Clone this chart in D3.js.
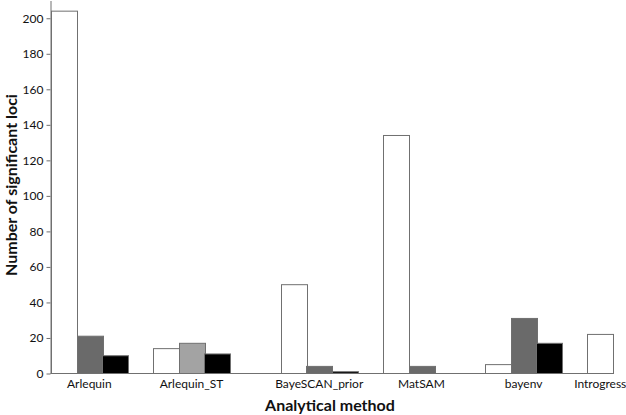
<!DOCTYPE html>
<html>
<head>
<meta charset="utf-8">
<script src="https://cdn.jsdelivr.net/npm/d3@7"></script>
<style>
body { margin: 0; background: #fff; }
text { font-family: Lato, "Open Sans", sans-serif; fill: #111; }
</style>
</head>
<body>
<script>
var width = 626,
    height = 415;

// data
var methods = ["Arlequin", "Arlequin_ST", "BayeSCAN_prior", "MatSAM", "bayenv", "Introgress"];
var series1 = [204, 14, 50, 134, 5, 22];   // white
var series2 = [21, 17, 4, 4, 31, 0];       // grey
var series3 = [10, 11, 1, 0, 17, 0];       // black
var yTicks = [0, 20, 40, 60, 80, 100, 120, 140, 160, 180, 200];

// layout of the clusters (bars per cluster, empty slots after it)
var barsPer = [3, 3, 3, 3, 3, 1];
var gapAfter = [1, 2, 1, 1, 1, 0];
var midGrey = ["#6a6a6a", "#a3a3a3", "#6a6a6a", "#6a6a6a", "#6a6a6a", "#6a6a6a"];

var svg = d3.select("body").append("svg")
    .attr("width", width)
    .attr("height", height);

var slots = [];
methods.forEach(function(m, i) {
    for (var k = 0; k < barsPer[i]; k++) slots.push(m + "|" + k);
    for (var g = 0; g < gapAfter[i]; g++) slots.push("gap" + i + "_" + g);
});

var x = d3.scaleBand().domain(slots).range([51, 613]).padding(0);
var y = d3.scaleLinear().domain([0, 210]).range([373.5, 0.5]);

var bars = [];
methods.forEach(function(m, i) {
    var vals = [series1[i], series2[i], series3[i]];
    var fills = ["#ffffff", midGrey[i], "#000000"];
    for (var k = 0; k < barsPer[i]; k++) {
        bars.push({method: m, k: k, value: vals[k], fill: fills[k]});
    }
});

svg.append("g").selectAll("rect")
    .data(bars.filter(function(d) { return d.value > 0; }))
    .enter().append("rect")
    .attr("x", function(d) { return Math.round(x(d.method + "|" + d.k)) + 0.5; })
    .attr("width", function(d) { return Math.round(x.bandwidth()); })
    .attr("y", function(d) { return y(d.value); })
    .attr("height", function(d) { return y(0) - y(d.value); })
    .attr("fill", function(d) { return d.fill; })
    .attr("stroke", "#707070")
    .attr("stroke-width", 1);

// y axis
var yAxis = svg.append("g")
    .attr("transform", "translate(50.5,0)")
    .call(d3.axisLeft(y).tickValues(yTicks).tickSize(4).tickSizeOuter(0).tickPadding(3));
yAxis.select(".domain").attr("stroke", "#707070");
yAxis.selectAll(".tick line").attr("stroke", "#707070");
yAxis.selectAll(".tick text").style("font-size", "12px").attr("fill", "#111");

// x axis line and labels
svg.append("line")
    .attr("x1", 50.5).attr("x2", 613)
    .attr("y1", y(0)).attr("y2", y(0))
    .attr("stroke", "#707070");

svg.append("g").selectAll("text")
    .data(methods)
    .enter().append("text")
    .attr("x", function(d, i) {
        var first = x(d + "|0");
        var last = x(d + "|" + (barsPer[i] - 1)) + x.bandwidth();
        return (first + last) / 2;
    })
    .attr("y", 388)
    .attr("text-anchor", "middle")
    .style("font-size", "12px")
    .text(function(d) { return d; });

svg.append("text")
    .attr("x", 330)
    .attr("y", 411)
    .attr("text-anchor", "middle")
    .style("font-size", "16px")
    .style("font-weight", "bold")
    .text("Analytical method");

svg.append("text")
    .attr("transform", "translate(16.5,185) rotate(-90)")
    .attr("text-anchor", "middle")
    .style("font-size", "16px")
    .style("font-weight", "bold")
    .text("Number of significant loci");
</script>
</body>
</html>
